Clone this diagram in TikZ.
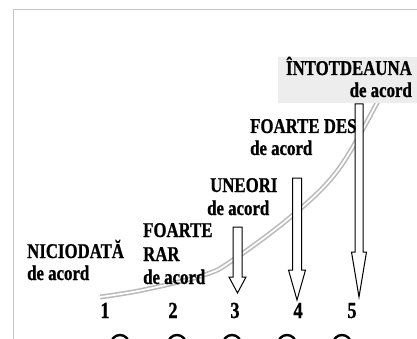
\documentclass[tikz,border=0pt]{standalone}
\usepackage{fontspec}
\newfontfamily\lab{Liberation Serif}[FakeStretch=0.8, FakeBold=0.8]
\newcommand\blkarrow[7]{%
  \draw[barrow] ({#1-#5},#2) coordinate (#7top) -- ({#1+#5},#2) -- ({#1+#5},#3) -- ({#1+#6},#3)
    -- (#1,#4) coordinate (#7tip) -- ({#1-#6},#3) -- ({#1-#5},#3) -- cycle;}
\begin{document}
\begin{tikzpicture}[x=1pt,y=-1pt,
  lbl/.style={inner sep=0pt, font=\lab\bfseries\fontsize{21}{22}\selectfont},
  num/.style={inner sep=0pt, font=\lab\bfseries\fontsize{23}{24}\selectfont},
  frameline/.style={draw=black!22, line width=1pt},
  barrow/.style={draw=black, fill=white, line width=1pt, line join=miter},
  curveline/.style={draw=black!27, double=white, double distance=1.7pt, line width=1.6pt},
  radio/.style={draw=black, line width=2.4pt, circle, minimum size=18pt, inner sep=0pt}]
\useasboundingbox (0,0) rectangle (417,339);
\draw[frameline] (13.5,339) -- (13.5,9.5) -- (417,9.5);
% rising curve
\draw[curveline] plot[smooth, tension=0.6] coordinates {(100,297) (143,290) (204,275) (233,260) (293,215) (338,170) (377,103) (388,80)};
% grey box
\fill[black!7] (278,57) rectangle (417,103);
% arrows
\blkarrow{237.5}{227}{277}{293}{4.5}{8.5}{a3}
\blkarrow{297}{178}{270}{300}{4.5}{8.5}{a4}
\blkarrow{359}{104}{252}{297}{4}{7.5}{a5}
% labels
\node[lbl, anchor=base west] (l1a) at (27,258) {NICIODATĂ};
\node[lbl, anchor=base west] (l1b) at (27,280) {de acord};
\node[lbl, anchor=base west] (l2a) at (143,237) {FOARTE};
\node[lbl, anchor=base west] (l2b) at (143,261) {RAR};
\node[lbl, anchor=base west] (l2c) at (143,284) {de acord};
\node[lbl, anchor=base west] (l3a) at (210,192) {UNEORI};
\node[lbl, anchor=base west] (l3b) at (207,215) {de acord};
\node[lbl, anchor=base west] (l4a) at (250,133) {FOARTE DES};
\node[lbl, anchor=base west] (l4b) at (250,155) {de acord};
\node[lbl, anchor=base east] (l5a) at (412,75) {ÎNTOTDEAUNA};
\node[lbl, anchor=base east] (l5b) at (412,97) {de acord};
% numbers
\node[num, anchor=base] (n1) at (105,318) {1};
\node[num, anchor=base] (n2) at (173,318) {2};
\node[num, anchor=base] (n3) at (235,318) {3};
\node[num, anchor=base] (n4) at (298,318) {4};
\node[num, anchor=base] (n5) at (352,318) {5};
% radio circles (cut by the lower edge)
\node[radio] (c1) at (120,344) {};
\node[radio] (c2) at (177,344) {};
\node[radio] (c3) at (232,344) {};
\node[radio] (c4) at (287,344) {};
\node[radio] (c5) at (342,344) {};
\end{tikzpicture}
\end{document}
